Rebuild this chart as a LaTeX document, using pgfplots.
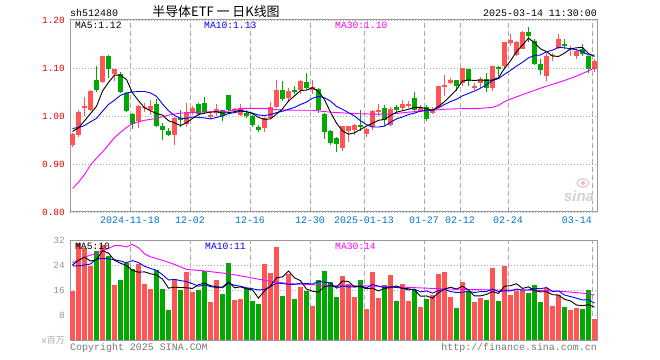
\documentclass[border=0pt]{standalone}
\usepackage{pgfplots}
\pgfplotsset{compat=1.18}
\usepackage{pgfplotstable}
\usepackage{fontspec}
\setmainfont{Liberation Mono}
\newfontfamily\cjk{Noto Sans CJK SC}
\newfontfamily\sansb{Liberation Sans}
\definecolor{cRed}{RGB}{255,85,85}
\definecolor{cGreen}{RGB}{0,168,0}
\definecolor{cBlue}{RGB}{0,0,255}
\definecolor{cMag}{RGB}{255,0,255}
\definecolor{cGrid}{RGB}{170,170,170}
\definecolor{cFrame}{RGB}{153,153,153}
\definecolor{cYlab}{RGB}{225,0,0}
\definecolor{cXlab}{RGB}{0,120,200}
\definecolor{cGray}{RGB}{150,150,150}

% red (up) candles
\pgfplotstableread{
i O H L C V
0 0.939 0.964 0.936 0.963 15.6
1 0.961 1.013 0.956 1.009 31.0
2 1.017 1.040 0.999 1.020 29.4
3 1.012 1.054 1.010 1.052 23.8
5 1.070 1.126 1.068 1.125 30.5
7 1.088 1.098 1.072 1.097 17.7
11 0.990 1.022 0.976 1.020 24.4
12 1.017 1.027 1.009 1.019 18.0
13 1.012 1.033 1.002 1.021 16.4
17 0.961 0.997 0.940 0.996 19.5
19 0.984 1.027 0.978 1.008 21.7
20 1.006 1.021 1.003 1.016 15.3
23 0.997 1.006 0.994 1.003 12.1
24 1.006 1.024 0.999 1.015 19.3
27 1.010 1.017 1.008 1.015 12.9
28 1.003 1.024 1.000 1.017 13.2
32 0.975 0.997 0.966 0.996 24.4
33 0.996 1.029 0.994 1.019 21.3
34 1.019 1.074 1.017 1.054 29.7
36 1.038 1.059 1.031 1.052 21.0
38 1.055 1.075 1.045 1.073 17.1
40 1.055 1.074 1.045 1.060 11.0
45 0.933 0.980 0.928 0.980 20.6
46 0.968 0.980 0.945 0.979 18.0
47 0.971 0.983 0.961 0.982 13.9
49 0.963 0.974 0.956 0.973 10.0
50 0.978 1.013 0.971 1.011 21.9
51 1.010 1.026 0.999 1.012 13.5
53 0.982 1.019 0.980 1.015 20.9
55 1.017 1.034 1.013 1.026 18.0
56 1.023 1.031 1.017 1.024 12.6
58 1.010 1.023 1.008 1.018 10.7
60 1.006 1.019 1.005 1.012 14.5
61 1.019 1.063 1.016 1.062 21.2
62 1.062 1.086 1.041 1.064 21.8
63 1.069 1.080 1.066 1.076 13.9
65 1.068 1.099 1.062 1.099 18.7
67 1.059 1.069 1.054 1.063 12.3
68 1.068 1.082 1.059 1.077 13.5
70 1.059 1.104 1.052 1.104 23.1
72 1.104 1.154 1.100 1.154 23.8
73 1.153 1.170 1.146 1.158 14.5
74 1.128 1.157 1.124 1.154 15.8
75 1.140 1.177 1.139 1.175 16.0
79 1.084 1.132 1.072 1.126 16.7
80 1.125 1.132 1.114 1.128 11.0
81 1.142 1.170 1.139 1.160 14.5
83 1.140 1.146 1.125 1.142 9.6
84 1.126 1.140 1.119 1.135 10.2
87 1.097 1.119 1.091 1.114 6.8
}\upT

% green (down) candles
\pgfplotstableread{
i O H L C V
4 1.074 1.105 1.050 1.055 28.4
6 1.126 1.127 1.080 1.098 27.0
8 1.088 1.092 1.047 1.051 19.3
9 1.048 1.050 1.008 1.010 24.6
10 1.005 1.007 0.973 0.984 22.7
14 1.025 1.035 0.978 0.980 22.5
15 0.980 0.986 0.949 0.970 16.4
16 0.968 0.974 0.958 0.961 9.7
18 0.995 1.013 0.978 0.993 16.1
21 1.024 1.027 1.000 1.004 15.9
22 1.027 1.040 1.005 1.008 22.2
25 1.012 1.013 0.989 0.999 14.8
26 1.043 1.044 1.010 1.012 24.6
29 1.006 1.013 0.996 1.001 16.6
30 1.001 1.003 0.977 0.982 12.6
31 0.978 0.981 0.967 0.971 11.6
35 1.055 1.072 1.031 1.036 14.2
37 1.054 1.062 1.045 1.051 13.2
39 1.070 1.090 1.056 1.059 15.8
41 1.057 1.058 1.006 1.012 19.3
42 1.005 1.006 0.952 0.966 22.2
43 0.968 0.970 0.940 0.944 18.6
44 0.955 0.957 0.926 0.942 13.9
48 0.981 1.013 0.968 0.979 19.3
52 1.017 1.022 0.980 0.992 17.7
54 1.019 1.022 1.008 1.012 12.6
57 1.038 1.050 1.010 1.012 16.1
59 1.019 1.022 0.989 0.994 13.2
64 1.075 1.075 1.052 1.062 10.3
66 1.097 1.098 1.062 1.072 15.5
69 1.077 1.089 1.050 1.059 12.9
71 1.101 1.104 1.084 1.099 12.6
76 1.175 1.186 1.154 1.167 15.1
77 1.156 1.161 1.107 1.109 17.6
78 1.109 1.118 1.086 1.095 12.3
82 1.151 1.160 1.139 1.146 10.7
85 1.140 1.149 1.125 1.130 10.0
86 1.126 1.126 1.089 1.097 16.1
}\dnT

\pgfplotstableread{
i v
0 0.968
1 0.975
2 0.990
3 1.005
4 1.020
5 1.052
6 1.070
7 1.085
8 1.085
9 1.076
10 1.048
11 1.032
12 1.017
13 1.011
14 1.005
15 1.002
16 0.990
17 0.986
18 0.980
19 0.986
20 0.995
21 1.003
22 1.006
23 1.008
24 1.009
25 1.006
26 1.007
27 1.009
28 1.012
29 1.009
30 1.005
31 0.997
32 0.993
33 0.994
34 1.004
35 1.015
36 1.031
37 1.042
38 1.053
39 1.054
40 1.059
41 1.051
42 1.034
43 1.008
44 0.985
45 0.969
46 0.962
47 0.965
48 0.972
49 0.979
50 0.985
51 0.991
52 0.993
53 1.001
54 1.008
55 1.011
56 1.014
57 1.018
58 1.018
59 1.015
60 1.012
61 1.020
62 1.030
63 1.042
64 1.055
65 1.073
66 1.075
67 1.074
68 1.075
69 1.074
70 1.075
71 1.080
72 1.099
73 1.115
74 1.134
75 1.148
76 1.162
77 1.153
78 1.140
79 1.134
80 1.125
81 1.124
82 1.131
83 1.140
84 1.142
85 1.143
86 1.130
87 1.124
}\maFive

\pgfplotstableread{
i v
0 0.974
1 0.976
2 0.980
3 0.988
4 0.995
5 1.010
6 1.024
7 1.033
8 1.043
9 1.048
10 1.050
11 1.051
12 1.051
13 1.048
14 1.041
15 1.025
16 1.011
17 1.001
18 0.995
19 0.995
20 0.998
21 0.997
22 0.996
23 0.994
24 0.997
25 1.000
26 1.005
27 1.007
28 1.010
29 1.009
30 1.006
31 1.002
32 1.001
33 1.003
34 1.007
35 1.010
36 1.014
37 1.018
38 1.024
39 1.029
40 1.037
41 1.041
42 1.038
43 1.031
44 1.020
45 1.014
46 1.007
47 1.000
48 0.990
49 0.982
50 0.977
51 0.977
52 0.979
53 0.987
54 0.994
55 0.998
56 1.003
57 1.006
58 1.010
59 1.012
60 1.012
61 1.017
62 1.024
63 1.030
64 1.035
65 1.042
66 1.047
67 1.052
68 1.058
69 1.065
70 1.074
71 1.078
72 1.087
73 1.095
74 1.104
75 1.112
76 1.121
77 1.126
78 1.127
79 1.134
80 1.137
81 1.143
82 1.142
83 1.140
84 1.138
85 1.134
86 1.127
87 1.127
}\maTen

\pgfplotstableread{
i v
0 0.849
1 0.862
2 0.878
3 0.898
4 0.912
5 0.925
6 0.940
7 0.955
8 0.966
9 0.976
10 0.984
11 0.988
12 0.991
14 0.995
16 1.002
18 1.006
21 1.008
24 1.009
26 1.010
27 1.014
29 1.016
32 1.016
34 1.013
37 1.012
40 1.012
43 1.008
47 1.005
50 1.004
53 1.004
56 1.008
59 1.011
62 1.014
64 1.015
68 1.016
70 1.018
71 1.022
72 1.030
73 1.035
74 1.040
76 1.049
78 1.058
80 1.066
82 1.074
84 1.083
86 1.094
87 1.100
}\maThirty

\pgfplotstableread{
i v
0 24.0
1 25.5
2 26.5
3 25.3
4 25.6
5 28.6
6 27.8
7 25.5
8 24.6
9 23.8
10 22.3
11 21.7
12 21.8
13 21.2
14 20.8
15 19.5
16 16.6
17 16.9
18 16.8
19 16.7
20 16.5
21 17.7
22 18.2
23 17.4
24 17.0
25 16.9
26 18.6
27 16.7
28 17.0
29 16.4
30 16.0
31 13.4
32 15.7
33 17.3
34 19.9
35 20.2
36 22.1
37 19.9
38 19.0
39 16.3
40 15.6
41 15.3
42 17.1
43 17.4
44 17.0
45 18.9
46 18.7
47 17.0
48 17.1
49 16.4
50 16.6
51 15.7
52 16.5
53 16.8
54 17.3
55 16.5
56 16.4
57 16.0
58 14.0
59 14.1
60 13.4
61 15.1
62 16.3
63 16.9
64 16.3
65 17.2
66 16.0
67 14.1
68 14.1
69 14.6
70 15.5
71 14.9
72 17.2
73 17.4
74 18.0
75 16.5
76 17.0
77 15.8
78 15.4
79 15.5
80 14.5
81 14.4
82 13.0
83 12.5
84 11.2
85 11.0
86 11.3
87 10.5
}\vFive

\pgfplotstableread{
i v
0 23.7
1 23.7
2 24.0
3 24.3
4 26.0
5 26.1
6 26.0
7 25.7
8 25.3
9 24.7
10 25.4
11 24.8
12 23.6
13 22.9
14 22.3
15 20.9
16 19.2
17 19.4
18 19.0
19 18.7
20 18.0
21 17.2
22 17.6
23 17.1
24 16.8
25 16.7
26 18.2
27 17.5
28 17.2
29 16.7
30 16.4
31 16.0
32 16.2
33 17.1
34 18.2
35 18.1
36 17.8
37 17.8
38 18.2
39 18.1
40 17.9
41 18.7
42 18.5
43 18.2
44 16.6
45 17.3
46 17.0
47 17.0
48 17.3
49 16.7
50 17.8
51 17.2
52 16.7
53 17.0
54 16.8
55 16.6
56 16.0
57 16.3
58 15.4
59 15.7
60 15.0
61 15.8
62 16.2
63 15.5
64 15.2
65 15.3
66 15.6
67 15.2
68 15.5
69 15.5
70 16.3
71 15.5
72 15.7
73 15.7
74 16.3
75 16.0
76 16.0
77 16.5
78 16.4
79 16.8
80 15.5
81 15.7
82 14.4
83 13.9
84 13.4
85 12.8
86 12.9
87 11.8
}\vTen

\pgfplotstableread{
i v
0 24.7
2 26.5
4 27.8
6 29.3
7 30.2
8 30.2
9 29.8
10 30.6
11 29.5
12 27.6
13 26.6
15 25.5
17 24.2
19 22.6
22 22.1
26 21.2
29 20.2
32 19.1
36 18.0
39 17.8
43 17.3
49 17.3
54 17.0
60 16.5
65 16.2
71 16.0
76 16.0
82 15.5
85 15.0
87 14.4
}\vThirty

\pgfplotsset{
  chartbase/.style={
    scale only axis, anchor=south west, width=527bp,
    xmin=-0.4167, xmax=87.4167,
    major tick length=0pt,
    grid=major,
    x grid style={draw=cGrid, dash pattern=on 5bp off 3bp, line width=0.8bp},
    y grid style={draw=cGrid, dash pattern=on 1bp off 2bp, line width=0.8bp},
    axis line style={draw=cFrame, line width=1bp},
    /pgf/number format/assume math mode=true,
  },
}

\begin{document}
\begin{tikzpicture}
\fill[white] (0,0) rectangle (660bp,360bp);
\useasboundingbox (0,0) rectangle (660bp,360bp);

% ---------- price panel ----------
\begin{axis}[chartbase,
  at={(70bp,148bp)}, height=192bp,
  ymin=0.8, ymax=1.2,
  ytick={0.8,0.9,1.0,1.1,1.2}, yticklabels={0.80,0.90,1.00,1.10,1.20},
  xtick={9.5833,19.5833,29.5833,39.5833,48.5833,58.5833,64.5833,72.5833},
  xticklabels={2024-11-18,12-02,12-16,12-30,2025-01-13,01-27,02-12,02-24},
  extra x ticks={86.5833}, extra x tick labels={03-14},
  extra x tick style={grid=major, x tick label style={anchor=north east, xshift=0bp}},
  x tick label style={font=\fontsize{10}{10}\selectfont, text=cXlab, inner sep=0pt, anchor=north, yshift=-5bp},
  y tick label style={font=\fontsize{9.5}{10}\selectfont, text=cYlab, inner sep=0pt, anchor=east, xshift=-5bp},
]
% wicks
\addplot[draw=none, error bars/.cd, y dir=both, y explicit, error mark=none,
  error bar style={draw=cRed, line width=1bp, solid}]
  table[x=i, y expr={(\thisrow{H}+\thisrow{L})/2}, y error expr={(\thisrow{H}-\thisrow{L})/2}] {\upT};
\addplot[draw=none, error bars/.cd, y dir=both, y explicit, error mark=none,
  error bar style={draw=cGreen, line width=1bp, solid}]
  table[x=i, y expr={(\thisrow{H}+\thisrow{L})/2}, y error expr={(\thisrow{H}-\thisrow{L})/2}] {\dnT};
% bodies
\addplot[draw=none, error bars/.cd, y dir=both, y explicit, error mark=none,
  error bar style={draw=cRed, line width=5bp, solid}]
  table[x=i, y expr={(\thisrow{O}+\thisrow{C})/2}, y error expr={max(abs(\thisrow{C}-\thisrow{O})/2,0.00105)}] {\upT};
\addplot[draw=none, error bars/.cd, y dir=both, y explicit, error mark=none,
  error bar style={draw=cGreen, line width=5bp, solid}]
  table[x=i, y expr={(\thisrow{O}+\thisrow{C})/2}, y error expr={max(abs(\thisrow{C}-\thisrow{O})/2,0.00105)}] {\dnT};
% moving averages
\addplot[cMag, line width=0.9bp, mark=none] table[x=i, y=v] {\maThirty};
\addplot[cBlue, line width=0.9bp, mark=none] table[x=i, y=v] {\maTen};
\addplot[black, line width=0.9bp, mark=none] table[x=i, y=v] {\maFive};
\end{axis}

% ---------- volume panel ----------
\begin{axis}[chartbase,
  at={(70bp,20bp)}, height=100bp,
  ymin=0, ymax=32,
  ytick={8,16,24,32}, yticklabels={8,16,24,32},
  xtick={9.5833,19.5833,29.5833,39.5833,48.5833,58.5833,64.5833,72.5833,86.5833},
  xticklabels={},
  y tick label style={font=\fontsize{9.5}{10}\selectfont, text=cGray, inner sep=0pt, anchor=east, xshift=-5bp},
]
\addplot[ycomb, draw=cRed, line width=5bp, mark=none] table[x=i, y=V] {\upT};
\addplot[ycomb, draw=cGreen, line width=5bp, mark=none] table[x=i, y=V] {\dnT};
\addplot[cMag, line width=0.9bp, mark=none] table[x=i, y=v] {\vThirty};
\addplot[cBlue, line width=0.9bp, mark=none] table[x=i, y=v] {\vTen};
\addplot[black, line width=0.9bp, mark=none] table[x=i, y=v] {\vFive};
\end{axis}

% ---------- texts ----------
\node[anchor=base west, inner sep=0pt, font=\fontsize{10}{10}\selectfont] at (70bp,343bp) {sh512480};
\node[anchor=base, inner sep=0pt, font=\cjk\fontsize{13}{14}\selectfont] at (216bp,343bp) {半导体ETF 一 日K线图};
\node[anchor=base east, inner sep=0pt, font=\fontsize{10}{10}\selectfont] at (597bp,343bp) {2025-03-14 11:30:00};

\node[anchor=base west, inner sep=0pt, font=\fontsize{9.7}{10}\selectfont, text=black] at (75bp,331bp) {MA5:1.12};
\node[anchor=base west, inner sep=0pt, font=\fontsize{9.7}{10}\selectfont, text=cBlue] at (204bp,331bp) {MA10:1.13};
\node[anchor=base west, inner sep=0pt, font=\fontsize{9.7}{10}\selectfont, text=cMag] at (335bp,331bp) {MA30:1.10};

\node[anchor=base west, inner sep=0pt, font=\fontsize{9.7}{10}\selectfont, text=black] at (75bp,110bp) {MA5:10};
\node[anchor=base west, inner sep=0pt, font=\fontsize{9.7}{10}\selectfont, text=cBlue] at (205bp,110bp) {MA10:11};
\node[anchor=base west, inner sep=0pt, font=\fontsize{9.7}{10}\selectfont, text=cMag] at (335bp,110bp) {MA30:14};

\node[anchor=base east, inner sep=0pt, font=\fontsize{9}{10}\selectfont, text=cGrid] at (65bp,17bp) {x{\cjk 百万}};
\node[anchor=base west, inner sep=0pt, font=\fontsize{10}{10}\selectfont, text=cGray!80!black] at (70bp,10bp) {Copyright 2025 SINA.COM};
\node[anchor=base east, inner sep=0pt, font=\fontsize{10}{10}\selectfont, text=cGray!80!black] at (597bp,10bp) {http://finance.sina.com.cn};

% watermark
\node[anchor=base, inner sep=0pt, font=\sansb\bfseries\itshape\fontsize{15}{15}\selectfont, text=gray!35] at (579bp,158bp) {sina};
\draw[gray!30, line width=1.6bp] (583bp,177bp) ellipse (6bp and 4bp);
\fill[red!30] (583bp,177bp) circle (2bp);
\end{tikzpicture}
\end{document}
